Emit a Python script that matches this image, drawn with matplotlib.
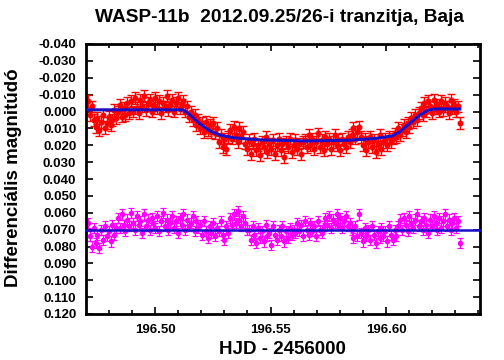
import numpy as np
import matplotlib
matplotlib.use("Agg")
import matplotlib.pyplot as plt
from matplotlib.ticker import MultipleLocator, FormatStrFormatter

plt.rcParams['font.family'] = ['Liberation Sans', 'DejaVu Sans']

# ---- data -------------------------------------------------------------
t_start = 196.4710
t_end = 196.6320
n_points = 200

# target (red) differential magnitudes, in millimag
target_mmag = [
    -6, 2, -3, 5,
    9, 4, 11, 6, 2, 10, 7, 3, 8,
    5, -1, 4, 0, -4, 3, -2, 2, -5, 1,
    -6, 0, -8, -2, 1, -7, -3, -9, -1, -5, -7, 0, -4, -8, -2, -6, 1, -5, -3, -9,
    -1, -4, -7, 0, -5, -8, -2, -4, -6, 0,
    -3, 3, 0, 5, 2, 8,
    5, 10, 7, 12, 6, 11,
    8, 12, 7, 13, 10,
    18, 14, 21, 16, 22, 15,
    11, 16, 9, 14, 18, 10, 15, 12, 19,
    22, 17, 25, 19, 16, 23, 20, 26, 18, 21, 15, 24, 19, 22, 17, 25, 20, 16, 23, 19,
    27, 18, 21, 16, 24, 20, 17, 22, 19, 25, 18,
    17, 21, 14, 20, 16, 22, 18, 13, 21, 17, 23, 15, 19, 16, 22, 18, 14, 20, 17, 23,
    16, 19, 21, 15, 18,
    14, 10, 16, 12, 9, 15,
    20, 16, 23, 18, 15, 21, 17, 24, 19, 14, 22, 18, 16, 20, 15, 18,
    16, 13, 15, 10, 14, 11, 8, 12, 7, 9, 4, 6, 2, 5, 1,
    -2, 2, -5, 0, -6, -3, 1, -7, -2, -4, 0, -6, -1, -5, -3, 1, -7, -2, -4, 0,
    -3, 7,
]

# comparison (magenta) differential magnitudes, in millimag
check_mmag = [
    66, 74, 80, 69, 78, 73, 81,
    70, 76, 68, 74, 71, 77, 67, 73, 69,
    63, 69, 61, 67, 71, 64, 68, 60, 66, 70, 62, 67, 65, 72, 61, 68, 64, 70, 63, 66,
    69, 62, 71, 65, 60, 68, 64, 70, 66, 62, 69, 65, 72, 63, 67, 61, 70, 64, 68, 66,
    62, 71, 65, 69,
    67, 73, 65, 71, 75, 68, 72, 66, 74, 69, 71, 65, 73, 76, 68, 72,
    63, 67, 61, 66, 59, 64, 68, 62, 66, 70,
    70, 76, 68, 73, 78, 69, 75, 71, 77, 67, 74, 72, 79, 68, 73, 76, 70, 74, 68, 77,
    71, 75, 69, 73, 70,
    72, 66, 71, 67, 74, 65, 70, 73, 66, 71, 68, 74, 65, 70, 72,
    68, 63, 67, 62, 69, 64, 66, 61, 67, 63, 69, 65, 62, 68, 66,
    70, 75, 68, 74, 61, 72, 77, 69, 74, 70, 76, 68, 73, 78, 71, 75, 69, 74, 71, 77,
    68, 73, 76, 70, 74,
    68, 64, 70, 63, 67, 71, 62, 66, 69, 64, 61, 68, 65, 70, 63, 67, 72, 64, 68, 62,
    66, 70, 63, 69, 65, 61, 68, 64, 70, 66, 63, 69, 65,
    78,
]

target_err = 0.0035
check_err = 0.003

# transit model curve
model_t = [196.4710, 196.5121, 196.5151, 196.5195, 196.5238, 196.5281, 196.5346,
           196.5454, 196.5658, 196.5844, 196.5952, 196.6026, 196.6060, 196.6104,
           196.6147, 196.6182, 196.6212, 196.6320]
model_mag = [-0.0010, -0.0010, 0.0020, 0.0075, 0.0115, 0.0140, 0.0157,
             0.0168, 0.0175, 0.0170, 0.0160, 0.0145, 0.0120, 0.0068,
             0.0020, -0.0008, -0.0015, -0.0015]

check_level = 0.070

title = "WASP-11b  2012.09.25/26-i tranzitja, Baja"
xlabel = "HJD - 2456000"
ylabel = "Differenciális magnitúdó"

# ---- plot -------------------------------------------------------------
t = np.linspace(t_start, t_end, n_points)
target = np.array(target_mmag) / 1000.0
check = np.array(check_mmag) / 1000.0

fig = plt.figure(figsize=(5.04, 3.60), dpi=100)
ax = fig.add_axes([86/504, 1-314/360, (480-86)/504, (314-44)/360])

ax.errorbar(t, target, yerr=target_err, fmt='o', color='#ff0000', ms=3.3,
            elinewidth=1.0, capsize=2.6, capthick=1.0, zorder=2)
ax.errorbar(t, check, yerr=check_err, fmt='o', color='#ff00ff', ms=3.0,
            elinewidth=0.9, capsize=2.0, capthick=0.9, zorder=2)

ax.plot(model_t, model_mag, color='#1a10c8', lw=2.2, zorder=3)
ax.axhline(check_level, color='#1a10c8', lw=1.8, zorder=3, clip_on=False)

ax.set_xlim(196.4701, 196.6407)
ax.set_ylim(0.120, -0.040)

ax.xaxis.set_major_locator(MultipleLocator(0.05))
ax.xaxis.set_minor_locator(MultipleLocator(0.01))
ax.xaxis.set_major_formatter(FormatStrFormatter('%.2f'))
ax.yaxis.set_major_locator(MultipleLocator(0.01))
ax.yaxis.set_major_formatter(FormatStrFormatter('%.3f'))

ax.tick_params(which='both', direction='in', top=True, right=True, width=1.2)
ax.tick_params(which='major', length=5)
ax.tick_params(which='minor', length=3)
ax.tick_params(axis='y', pad=7)
ax.tick_params(axis='x', pad=7)
for lab in ax.get_xticklabels() + ax.get_yticklabels():
    lab.set_fontsize(9.5)
    lab.set_fontweight('bold')

for sp in ax.spines.values():
    sp.set_linewidth(2.0)

fig.text(279/504, 1-17/360, title, ha='center', va='center',
         fontsize=13.8, fontweight='bold')
fig.text(282/504, 1-350/360, xlabel, ha='center', va='center',
         fontsize=13.5, fontweight='bold')
fig.text(14/504, 1-178/360, ylabel, ha='center', va='center', rotation=90,
         fontsize=13.5, fontweight='bold')

fig.savefig("out.png", dpi=100)
